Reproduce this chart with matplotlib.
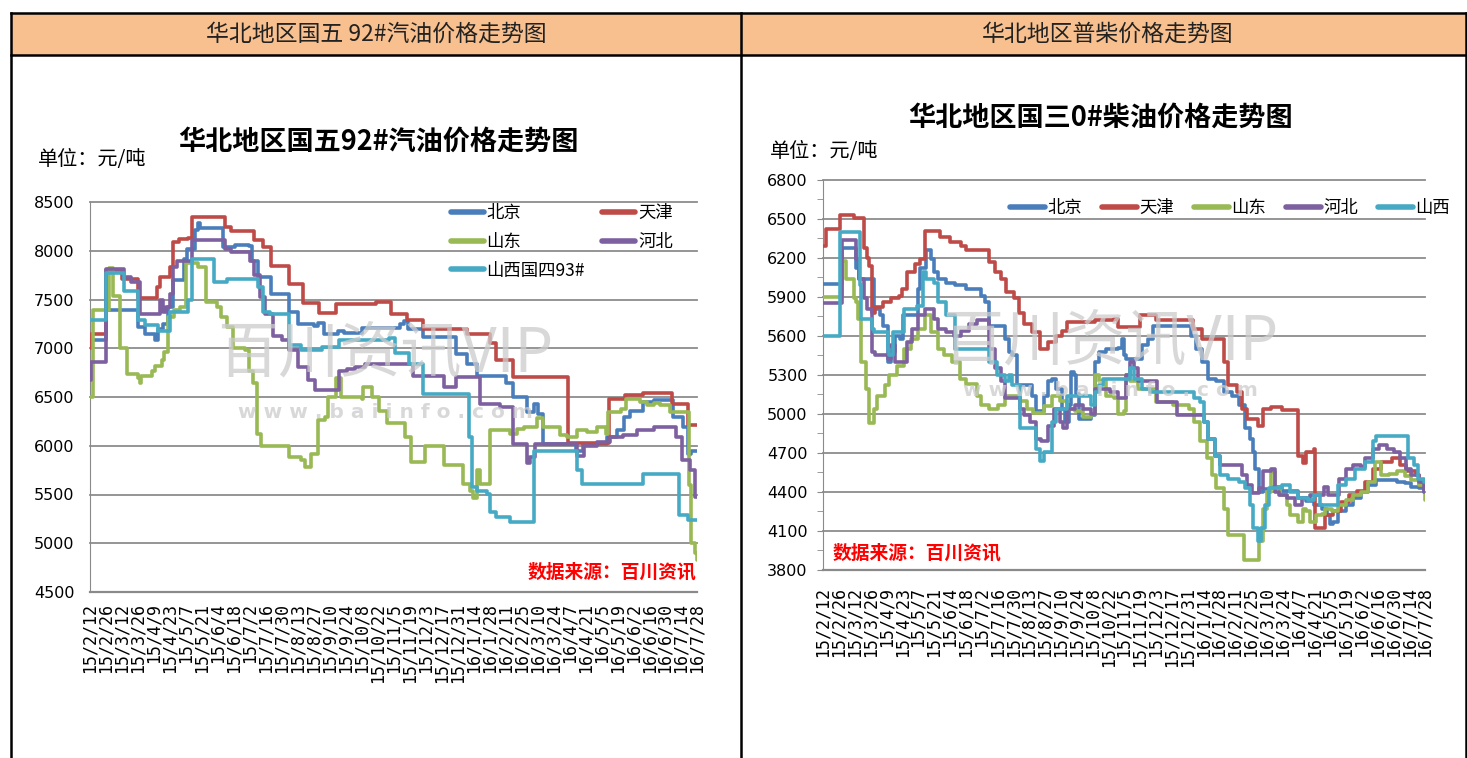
import matplotlib
matplotlib.use('Agg')
import matplotlib.pyplot as plt
from matplotlib.lines import Line2D
from matplotlib.patches import Rectangle
from matplotlib import font_manager

W, H = 1467, 758

# x axis: day offset from 2015-02-12, one tick label every 14 days
tick_labels = ['15/2/12', '15/2/26', '15/3/12', '15/3/26', '15/4/9', '15/4/23', '15/5/7',
               '15/5/21', '15/6/4', '15/6/18', '15/7/2', '15/7/16', '15/7/30', '15/8/13',
               '15/8/27', '15/9/10', '15/9/24', '15/10/8', '15/10/22', '15/11/5', '15/11/19',
               '15/12/3', '15/12/17', '15/12/31', '16/1/14', '16/1/28', '16/2/11', '16/2/25',
               '16/3/10', '16/3/24', '16/4/7', '16/4/21', '16/5/5', '16/5/19', '16/6/2',
               '16/6/16', '16/6/30', '16/7/14', '16/7/28']

# ---- gasoline (left chart): change points (day, price) ----
gas_bj_day = [0, 14, 42, 48, 57, 60, 64, 68, 73, 82, 85, 92, 95, 96, 117, 127, 139, 142, 147, 159,
              174, 182, 196, 200, 205, 217, 223, 238, 272, 275, 279, 292, 321, 330, 339, 365, 371,
              383, 389, 393, 397, 426, 432, 453, 462, 468, 473, 485, 494, 511, 520, 524, 527, 532]
gas_bj_val = [7080, 7390, 7220, 7150, 7080, 7200, 7250, 7420, 7700, 7920, 8020, 8210, 8280, 8230,
              8040, 8060, 8050, 7900, 7730, 7560, 7370, 7250, 7230, 7260, 7150, 7180, 7160, 7210,
              7250, 7280, 7200, 7120, 6940, 6840, 6720, 6640, 6500, 6350, 6430, 6330, 6020, 5950,
              6020, 6090, 6160, 6300, 6360, 6450, 6470, 6300, 6190, 5920, 5950, 5950]

gas_tj_day = [0, 1, 14, 28, 42, 59, 61, 70, 73, 78, 86, 89, 118, 124, 144, 152, 159, 174, 187, 201,
              216, 251, 264, 278, 292, 330, 351, 356, 371, 419, 455, 469, 485, 510, 524, 532]
gas_tj_val = [7000, 7150, 7800, 7710, 7520, 7630, 7730, 7830, 8090, 8120, 8130, 8350, 8240, 8200,
              8110, 8040, 7840, 7660, 7460, 7360, 7450, 7470, 7350, 7290, 7200, 7150, 7050, 6880,
              6710, 6030, 6480, 6520, 6540, 6430, 6210, 6210]

gas_sd_day = [0, 3, 17, 20, 26, 32, 42, 44, 45, 54, 57, 63, 65, 68, 74, 79, 84, 95, 102, 111, 115,
              120, 125, 136, 139, 143, 146, 150, 174, 185, 188, 194, 200, 206, 209, 216, 220, 238,
              239, 247, 253, 260, 276, 281, 294, 310, 327, 333, 336, 339, 342, 351, 368, 374, 380,
              392, 397, 412, 418, 427, 436, 444, 452, 454, 465, 470, 482, 488, 494, 500, 508, 523,
              525, 527, 530, 532]
gas_sd_val = [6500, 7390, 7820, 7540, 7000, 6740, 6690, 6640, 6720, 6770, 6820, 6880, 6960, 7320,
              7390, 7420, 7870, 7830, 7470, 7420, 7320, 7220, 7000, 6980, 6770, 6640, 6120, 6000,
              5880, 5850, 5780, 5920, 6260, 6290, 6500, 6700, 6500, 6480, 6600, 6500, 6360, 6230,
              6090, 5830, 6000, 5800, 5610, 5540, 5460, 5750, 5610, 6160, 6120, 6170, 6190, 6280,
              6190, 6110, 6090, 6160, 6140, 6190, 6120, 6350, 6380, 6480, 6450, 6420, 6440, 6420,
              6350, 6350, 5600, 5000, 4900, 4830]

gas_hb_day = [0, 1, 14, 30, 36, 44, 61, 64, 67, 70, 73, 76, 89, 118, 124, 140, 144, 149, 153, 160,
              168, 174, 182, 191, 197, 218, 225, 232, 241, 283, 310, 321, 342, 359, 371, 383, 386,
              390, 427, 433, 444, 456, 467, 479, 494, 514, 519, 526, 530, 532]
gas_hb_val = [6670, 6860, 7810, 7730, 7680, 7350, 7490, 7370, 7420, 7560, 7830, 7900, 8110, 8020,
              7990, 7900, 7750, 7530, 7350, 7130, 7080, 6980, 6810, 6670, 6570, 6770, 6790, 6810,
              6840, 6720, 6600, 6710, 6430, 6400, 6020, 5820, 5880, 6020, 5900, 6000, 6040, 6090,
              6110, 6160, 6190, 6090, 5850, 5750, 5470, 5470]

gas_sx_day = [0, 14, 30, 42, 48, 60, 70, 86, 89, 109, 120, 147, 152, 158, 174, 185, 203, 218, 262,
              267, 280, 292, 332, 335, 339, 348, 351, 356, 368, 389, 427, 431, 485, 516, 524, 532]
gas_sx_val = [7290, 7770, 7590, 7290, 7240, 7180, 7370, 7490, 7920, 7680, 7710, 7630, 7370, 7350,
              7030, 6980, 7010, 7080, 7110, 6950, 6840, 6530, 6090, 5580, 5540, 5510, 5320, 5270,
              5220, 5950, 5750, 5610, 5710, 5290, 5240, 5240]

# ---- diesel (right chart) ----
die_bj_day = [0, 17, 29, 32, 45, 50, 53, 57, 60, 64, 68, 71, 84, 86, 91, 95, 98, 102, 109, 117, 126,
              140, 143, 147, 161, 164, 167, 171, 185, 188, 195, 199, 202, 206, 211, 214, 217, 219,
              222, 224, 226, 237, 240, 244, 250, 261, 264, 266, 268, 282, 287, 292, 325, 330, 335,
              340, 347, 354, 361, 368, 373, 377, 380, 382, 385, 389, 396, 406, 420, 427, 434, 441,
              445, 448, 451, 455, 462, 468, 475, 482, 489, 507, 514, 520, 527, 531]
die_bj_val = [6000, 6280, 6120, 6040, 5810, 5760, 5680, 5400, 5480, 5600, 5580, 5760, 5960, 6120,
              6260, 6190, 6090, 6040, 6010, 5990, 5960, 5910, 5860, 5680, 5580, 5480, 5450, 5220,
              5140, 5020, 5140, 5250, 5270, 5190, 5040, 4940, 5070, 5320, 5300, 5150, 4960, 4990,
              5400, 5480, 5500, 5510, 5580, 5450, 5420, 5530, 5580, 5680, 5600, 5500, 5400, 5270,
              5250, 5170, 5140, 5070, 4890, 4810, 4710, 4580, 4400, 4420, 4440, 4410, 4350, 4330,
              4300, 4270, 4220, 4150, 4170, 4250, 4300, 4350, 4400, 4450, 4490, 4480, 4470, 4440,
              4430, 4400]

die_tj_day = [0, 3, 15, 27, 36, 39, 41, 43, 46, 53, 60, 67, 70, 74, 81, 86, 90, 103, 112, 122, 126,
              147, 152, 157, 162, 169, 173, 178, 185, 192, 199, 206, 211, 216, 240, 257, 261, 280,
              294, 327, 335, 354, 358, 366, 370, 375, 384, 389, 396, 406, 420, 424, 427, 434, 435,
              444, 451, 458, 465, 472, 479, 486, 493, 503, 510, 515, 524, 527, 532]
die_tj_val = [6290, 6420, 6530, 6510, 6280, 6200, 6140, 5780, 5820, 5860, 5890, 5910, 5960, 6090,
              6150, 6190, 6410, 6360, 6320, 6290, 6260, 6170, 6090, 6040, 5940, 5890, 5780, 5690,
              5630, 5500, 5550, 5600, 5640, 5710, 5720, 5730, 5670, 5760, 5720, 5650, 5580, 5400,
              5220, 5170, 5040, 4960, 4910, 5040, 5050, 5030, 4680, 4620, 4710, 4730, 4120, 4220,
              4250, 4320, 4380, 4410, 4480, 4580, 4630, 4660, 4610, 4560, 4530, 4450, 4450]

die_sd_day = [0, 17, 20, 27, 29, 31, 34, 38, 41, 45, 48, 55, 58, 65, 72, 78, 84, 90, 95, 102, 107,
              114, 121, 126, 136, 140, 147, 155, 161, 174, 180, 186, 195, 202, 209, 216, 223, 230,
              237, 240, 244, 250, 257, 261, 266, 268, 271, 278, 294, 309, 323, 328, 333, 339, 344,
              347, 354, 358, 372, 385, 389, 392, 396, 399, 404, 410, 413, 420, 424, 427, 430, 436,
              441, 444, 450, 455, 462, 468, 475, 482, 488, 493, 500, 507, 514, 520, 527, 532]
die_sd_val = [5900, 6180, 6040, 5890, 5860, 5730, 5400, 5190, 4930, 5040, 5140, 5220, 5300, 5370,
              5500, 5580, 5650, 5760, 5630, 5500, 5450, 5400, 5270, 5230, 5140, 5070, 5040, 5070,
              5140, 5100, 5040, 5010, 5060, 5140, 5100, 5040, 5020, 4980, 5000, 5300, 5250, 5140,
              5120, 5000, 5020, 5300, 5250, 5190, 5090, 5070, 5040, 4940, 4790, 4660, 4530, 4430,
              4270, 4070, 3880, 4020, 4270, 4400, 4550, 4430, 4380, 4300, 4220, 4170, 4270, 4250,
              4170, 4220, 4230, 4270, 4250, 4300, 4340, 4380, 4400, 4480, 4630, 4530, 4540, 4560,
              4520, 4490, 4450, 4340]

die_hb_day = [0, 17, 29, 32, 36, 39, 43, 46, 57, 60, 64, 74, 79, 84, 90, 98, 102, 109, 116, 122,
              129, 136, 147, 152, 157, 161, 174, 178, 183, 188, 193, 199, 204, 209, 212, 216, 223,
              230, 237, 240, 254, 261, 268, 271, 275, 278, 295, 313, 337, 340, 346, 351, 370, 375,
              379, 385, 389, 396, 399, 403, 410, 417, 423, 430, 443, 446, 456, 462, 468, 475, 479,
              486, 491, 498, 505, 510, 515, 520, 527, 531]
die_hb_val = [5850, 6340, 6190, 6040, 5890, 5810, 5480, 5450, 5420, 5530, 5400, 5550, 5650, 5760,
              5810, 5730, 5650, 5630, 5600, 5640, 5690, 5720, 5500, 5350, 5250, 5120, 5040, 4990,
              4940, 4810, 4790, 4910, 5040, 4940, 4890, 5040, 5070, 5040, 5000, 5190, 5170, 5120,
              5300, 5400, 5350, 5250, 5090, 4990, 4940, 4810, 4680, 4610, 4530, 4450, 4390, 4430,
              4560, 4580, 4400, 4380, 4350, 4300, 4350, 4380, 4440, 4380, 4500, 4580, 4610, 4590,
              4660, 4730, 4760, 4730, 4710, 4660, 4580, 4530, 4480, 4400]

die_sx_day = [0, 15, 33, 34, 43, 45, 57, 58, 62, 72, 83, 88, 91, 98, 102, 109, 117, 147, 154, 161,
              164, 167, 174, 188, 192, 195, 202, 206, 216, 237, 240, 244, 247, 271, 275, 282, 289,
              328, 333, 337, 340, 346, 351, 358, 368, 373, 377, 380, 384, 387, 391, 394, 406, 413,
              420, 429, 434, 439, 455, 462, 470, 479, 486, 489, 515, 517, 522, 526, 531]
die_sx_val = [5600, 6400, 5990, 5730, 5650, 5630, 5500, 5450, 5630, 5810, 5830, 6090, 6040, 6010,
              5860, 5760, 5500, 5400, 5300, 5250, 5300, 5220, 4890, 4730, 4640, 4710, 4940, 5040,
              5140, 5070, 5170, 5220, 5270, 5350, 5270, 5190, 5170, 5120, 5090, 4940, 4810, 4680,
              4530, 4500, 4480, 4430, 4300, 4120, 4020, 4120, 4300, 4430, 4450, 4400, 4350, 4340,
              4380, 4300, 4450, 4500, 4580, 4630, 4790, 4830, 4830, 4660, 4610, 4500, 4480]

BLUE, RED, GREEN, PURPLE, CYAN = '#4A7EBB', '#BE4B48', '#98B954', '#7D60A0', '#46AAC5'

plt.rcParams['font.family'] = ['Noto Sans CJK SC', 'DejaVu Sans']
names = {f.name for f in font_manager.fontManager.ttflist}
if 'Liberation Sans Narrow' in names:
    NUM_FONT, NUM_SIZE = 'Liberation Sans Narrow', 15.5
else:
    NUM_FONT, NUM_SIZE = 'DejaVu Sans', 11.5


def fx(x):
    return x / W


def fy(y):
    return 1 - y / H


fig = plt.figure(figsize=(W / 100, H / 100), dpi=100)
fig.patch.set_facecolor('white')

# table header and borders
fig.add_artist(Rectangle((fx(11), fy(55)), fx(W - 11), 42 / H, transform=fig.transFigure,
                         facecolor='#F8C08E', edgecolor='none', zorder=0))
for xs, ys in [([11, W], [13, 13]), ([11, W], [55, 55]), ([11, 11], [13, H]),
               ([741, 741], [13, H]), ([W - 1, W - 1], [13, H])]:
    fig.add_artist(Line2D([fx(v) for v in xs], [fy(v) for v in ys], color='black', lw=1.8,
                          transform=fig.transFigure))
fig.text(fx(376), fy(34), '华北地区国五 92#汽油价格走势图', ha='center', va='center',
         fontsize=16.5, color='#222222')
fig.text(fx(1108), fy(34), '华北地区普柴价格走势图', ha='center', va='center',
         fontsize=16.5, color='#222222')

ax1 = fig.add_axes([fx(90), fy(592), 607 / W, 390 / H])
ax2 = fig.add_axes([fx(823), fy(570), 602 / W, 390 / H])


def style_axes(ax, ymin, ymax, step, xpad):
    ax.set_xlim(0, 532)
    ax.set_ylim(ymin, ymax)
    ax.set_yticks(range(ymin, ymax + 1, step))
    ax.set_xticks(range(0, 533, 14))
    ax.set_xticklabels(tick_labels, rotation=90, family='DejaVu Sans Mono', fontsize=12)
    for lab in ax.get_yticklabels():
        lab.set_family(NUM_FONT)
        lab.set_fontsize(NUM_SIZE)
    ax.spines['top'].set_visible(False)
    ax.spines['right'].set_visible(False)
    ax.spines['left'].set_color('#8a8a8a')
    ax.spines['bottom'].set_color('#8a8a8a')
    ax.spines['bottom'].set_linewidth(1.6)
    ax.yaxis.grid(True, color='#8c8c8c', lw=1.3)
    ax.set_axisbelow(True)
    ax.tick_params(axis='x', length=0, pad=xpad)


style_axes(ax1, 4500, 8500, 500, 8)
ax1.tick_params(axis='y', length=0, pad=11)
style_axes(ax2, 3800, 6800, 300, 12)
ax2.set_yticks(range(3950, 6800, 300), minor=True)
ax2.tick_params(axis='y', which='both', length=4, color='#8a8a8a', pad=7)
for gl in ax1.get_ygridlines() + ax2.get_ygridlines():
    gl.set_clip_on(False)


def draw(ax, days, vals, color, label):
    ax.plot(days, vals, drawstyle='steps-post', color=color, lw=2.6, label=label,
            solid_joinstyle='round', solid_capstyle='round', zorder=3)


draw(ax1, gas_bj_day, gas_bj_val, BLUE, '北京')
draw(ax1, gas_tj_day, gas_tj_val, RED, '天津')
draw(ax1, gas_sd_day, gas_sd_val, GREEN, '山东')
draw(ax1, gas_hb_day, gas_hb_val, PURPLE, '河北')
draw(ax1, gas_sx_day, gas_sx_val, CYAN, '山西国四93#')

draw(ax2, die_bj_day, die_bj_val, BLUE, '北京')
draw(ax2, die_tj_day, die_tj_val, RED, '天津')
draw(ax2, die_sd_day, die_sd_val, GREEN, '山东')
draw(ax2, die_hb_day, die_hb_val, PURPLE, '河北')
draw(ax2, die_sx_day, die_sx_val, CYAN, '山西')


def handle(c):
    return Line2D([], [], color=c, lw=4, solid_capstyle='round')


ax1.legend([handle(BLUE), handle(GREEN), handle(CYAN), handle(RED), handle(PURPLE)],
           ['北京', '山东', '山西国四93#', '天津', '河北'], ncol=2, loc='upper left',
           bbox_to_anchor=(fx(451), fy(204)), bbox_transform=fig.transFigure, frameon=False,
           fontsize=12.5, handlelength=1.9, handletextpad=0.15, columnspacing=1.0,
           labelspacing=0.62, borderpad=0, borderaxespad=0)
ax2.legend([handle(c) for c in (BLUE, RED, GREEN, PURPLE, CYAN)],
           ['北京', '天津', '山东', '河北', '山西'], ncol=5, loc='upper left',
           bbox_to_anchor=(fx(1010), fy(199)), bbox_transform=fig.transFigure, frameon=False,
           fontsize=12.5, handlelength=2.0, handletextpad=0.15, columnspacing=1.15,
           borderpad=0, borderaxespad=0)

# titles, units, watermarks, source notes
fig.text(fx(378), fy(142), '华北地区国五92#汽油价格走势图', ha='center', va='center',
         fontsize=19.5, fontweight='bold')
fig.text(fx(1101), fy(118), '华北地区国三0#柴油价格走势图', ha='center', va='center',
         fontsize=19.5, fontweight='bold')
fig.text(fx(38), fy(160), '单位：元/吨', ha='left', va='center', fontsize=14.5)
fig.text(fx(770), fy(152), '单位：元/吨', ha='left', va='center', fontsize=14.5)

for cx, cy, uy in [(385, 355, 412), (1110, 343, 390)]:
    fig.text(fx(cx), fy(cy), '百川资讯VIP', ha='center', va='center', fontsize=44,
             color='#cccccc', alpha=0.75, zorder=0.5)
    fig.text(fx(cx), fy(uy), 'w w w . b a i i n f o . c o m', ha='center', va='center',
             fontsize=14.5, fontweight='bold', color='#cccccc', alpha=0.75, zorder=0.5,
             family='DejaVu Sans')

fig.text(fx(612), fy(572), '数据来源：百川资讯', ha='center', va='center', fontsize=13.5,
         fontweight='bold', color='#FF0000')
fig.text(fx(917), fy(553), '数据来源：百川资讯', ha='center', va='center', fontsize=13.5,
         fontweight='bold', color='#FF0000')

fig.savefig('out.png', dpi=100, facecolor='white')
